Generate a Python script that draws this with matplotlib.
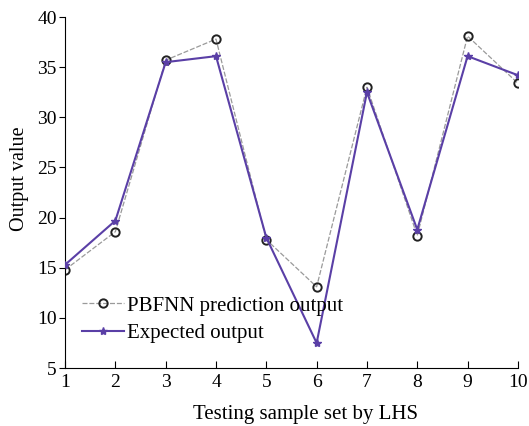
import matplotlib
matplotlib.use('Agg')
import matplotlib.pyplot as plt

plt.rcParams['font.family'] = ['Liberation Serif', 'DejaVu Serif']

samples = [1, 2, 3, 4, 5, 6, 7, 8, 9, 10]
pbfnn_pred = [14.8, 18.6, 35.7, 37.8, 17.8, 13.1, 33.0, 18.2, 38.1, 33.4]
expected = [15.3, 19.7, 35.5, 36.1, 18.0, 7.5, 32.5, 18.8, 36.1, 34.2]

fig = plt.figure(figsize=(5.29, 4.26), dpi=100)
ax = fig.add_axes([0.123, 0.136, 0.856, 0.824])

ax.plot(samples, pbfnn_pred, color='#9a9a9a', linewidth=0.9, linestyle=(0, (4, 1.5)),
        marker='o', markersize=6, markerfacecolor='none', markeredgecolor='#222222',
        markeredgewidth=1.4, label='PBFNN prediction output', zorder=2)
ax.plot(samples, expected, color='#5a3fa6', linewidth=1.5,
        marker='*', markersize=6, markerfacecolor='#5a3fa6', markeredgecolor='#5a3fa6',
        label='Expected output', zorder=3)

ax.set_xlim(1, 10)
ax.set_ylim(5, 40)
ax.set_xticks(samples)
ax.set_yticks(range(5, 41, 5))
ax.spines['top'].set_visible(False)
ax.spines['right'].set_visible(False)
ax.tick_params(axis='x', direction='in', length=5, labelsize=14, pad=4)
ax.tick_params(axis='y', direction='out', length=4, labelsize=14, pad=2)

ax.set_xlabel('Testing sample set by LHS', fontsize=15)
ax.xaxis.set_label_coords(0.53, -0.105)
ax.set_ylabel('Output value', fontsize=14.5)
ax.yaxis.set_label_coords(-0.08, 0.54)

ax.legend(loc='lower left', bbox_to_anchor=(0.038, 0.07), frameon=False, fontsize=15,
          handlelength=2.0, handletextpad=0.15, labelspacing=0.4,
          borderaxespad=0, borderpad=0)

fig.savefig('out.png', dpi=100)
